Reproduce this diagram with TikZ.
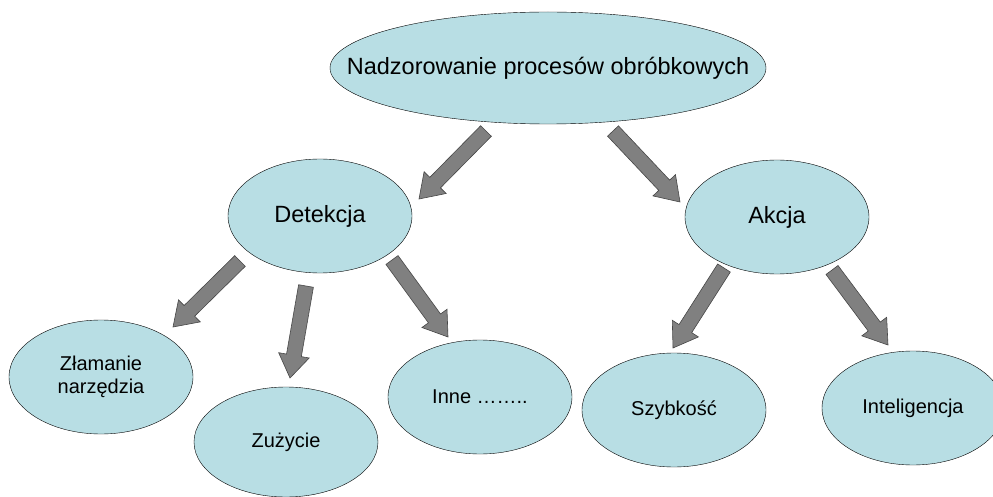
\documentclass[tikz,border=0pt]{standalone}
\usepackage{fontspec}
\setmainfont{Liberation Sans}
\usetikzlibrary{shapes.geometric,calc}
\definecolor{ellfill}{RGB}{184,222,228}
\definecolor{arrfill}{RGB}{128,128,128}
\definecolor{arrline}{RGB}{70,70,70}
\newcommand{\blockarrow}[2]{\coordinate (ab) at ($(#2)!23pt!(#1)$);
        \draw[blockarrow] ($(#1)!7.5pt!90:(#2)$) -- ($(ab)!7.5pt!90:(#2)$) -- ($(ab)!15.5pt!90:(#2)$) -- (#2)
                -- ($(ab)!15.5pt!-90:(#2)$) -- ($(ab)!7.5pt!-90:(#2)$) -- ($(#1)!7.5pt!-90:(#2)$) -- cycle;
    }
\begin{document}
\begin{tikzpicture}
                [x=1pt,y=-1pt,
                ell/.style={ellipse,draw=black,fill=ellfill,inner sep=0pt,align=center,minimum width=184pt,minimum height=114pt},
                bigtxt/.style={font=\fontsize{23.5}{27}\selectfont},
                smalltxt/.style={font=\fontsize{20}{23}\selectfont},
                blockarrow/.style={draw=arrline,fill=arrfill,line width=0.6pt,line join=miter},
                ]
                \useasboundingbox (0,0) rectangle (993,497);
                % ellipses
                \node[ell, bigtxt, inner xsep=-55pt, minimum width=436pt, minimum height=112pt] (nadzor) at (548,68) {Nadzorowanie procesów obróbkowych};
                \node[ell, bigtxt] (detekcja) at (320,216) {Detekcja};
                \node[ell, bigtxt] (akcja) at (777,217) {Akcja};
                \node[ell, smalltxt] (zlamanie) at (101,377) {Złamanie\\narzędzia};
                \node[ell, smalltxt, minimum height=110pt] (zuzycie) at (286,442) {Zużycie};
                \node[ell, smalltxt] (inne) at (480,397) {Inne ……..};
                \node[ell, smalltxt] (szybkosc) at (674,410) {Szybkość};
                \node[ell, smalltxt, minimum width=182pt] (intel) at (913,408) {Inteligencja};
                % arrows
                \coordinate (nd1) at (486,131);	\coordinate (nd2) at (419,199);
                \coordinate (na1) at (613,131);	\coordinate (na2) at (680,202);
                \coordinate (dz1) at (240,261);	\coordinate (dz2) at (173,327);
                \coordinate (du1) at (306,286);	\coordinate (du2) at (290,378);
                \coordinate (di1) at (392,260);	\coordinate (di2) at (448,337);
                \coordinate (as1) at (724,268);	\coordinate (as2) at (673,348);
                \coordinate (ai1) at (832,270);	\coordinate (ai2) at (888,345);
                \blockarrow{nd1}{nd2}	\blockarrow{na1}{na2}
                \blockarrow{dz1}{dz2}	\blockarrow{du1}{du2}	\blockarrow{di1}{di2}
                \blockarrow{as1}{as2}	\blockarrow{ai1}{ai2}
            \end{tikzpicture}
\end{document}
